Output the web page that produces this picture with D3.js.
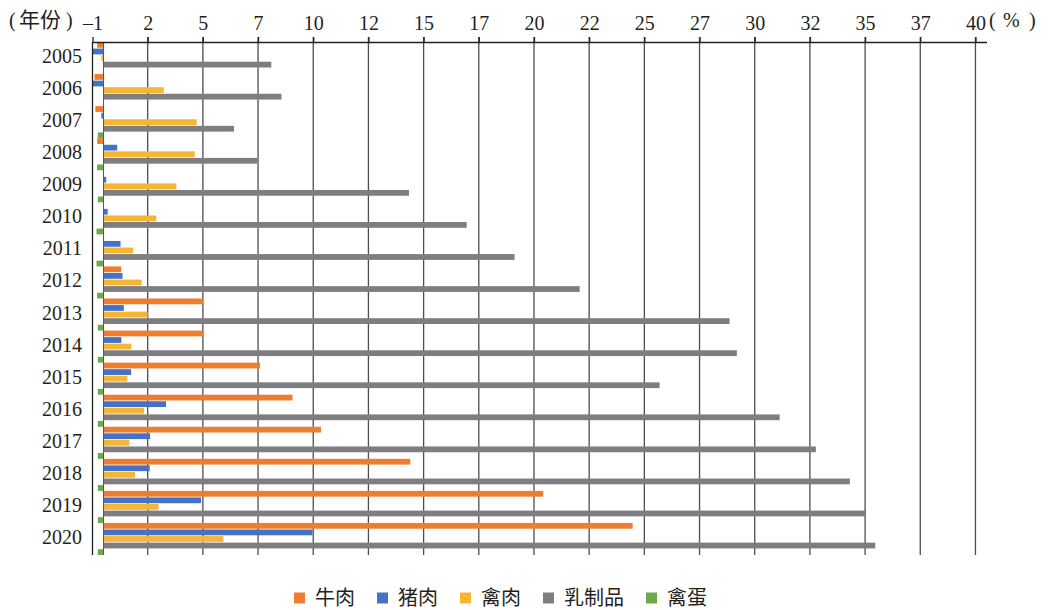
<!DOCTYPE html>
<html>
<head>
<meta charset="utf-8">
<script src="https://cdn.jsdelivr.net/npm/d3@7"></script>
<style>
  body { margin: 0; background: #fff; }
  svg { display: block; }
</style>
</head>
<body>
<script>
// years, top to bottom
const years = ["2005","2006","2007","2008","2009","2010","2011","2012",
               "2013","2014","2015","2016","2017","2018","2019","2020"];

// series (%)
const beef    = [-0.29, -0.41, -0.37, -0.29, 0, 0, 0, 0.8, 4.51, 4.54, 7.09, 8.56, 9.85, 13.9, 19.92, 23.97];
const pork    = [-0.5, -0.5, -0.1, 0.62, 0.12, 0.19, 0.77, 0.86, 0.92, 0.81, 1.25, 2.83, 2.11, 2.09, 4.42, 9.46];
const poultry = [-0.1, 2.73, 4.22, 4.13, 3.3, 2.39, 1.34, 1.73, 2.0, 1.26, 1.08, 1.84, 1.17, 1.43, 2.49, 5.43];
const dairy   = [7.6, 8.06, 5.91, 6.97, 13.84, 16.45, 18.62, 21.57, 28.36, 28.69, 25.19, 30.63, 32.27, 33.81, 34.51, 34.96];
const eggs    = [0, 0, -0.26, -0.29, -0.26, -0.32, -0.32, -0.29, -0.26, -0.26, -0.26, -0.26, -0.26, -0.26, -0.26, -0.26];

const seriesNames = ["牛肉", "猪肉", "禽肉", "乳制品", "禽蛋"];
const seriesColors = ["#ED7D31", "#4472C4", "#F6B533", "#7E7D82", "#6FA84A"];
const seriesValues = [beef, pork, poultry, dairy, eggs];

// axis ticks and their printed labels
const tickValues = [-0.5, 2, 4.5, 7, 9.5, 12, 14.5, 17, 19.5, 22, 24.5, 27, 29.5, 32, 34.5, 37, 39.5];
const tickLabels = ["–1","2","5","7","10","12","15","17","20","22","25","27","30","32","35","37","40"];

var width = 1048, height = 610;
const serif = "'Liberation Serif', serif";
const cjk = "'Noto Sans CJK SC', sans-serif";

let svg = d3.select("body").append("svg")
  .attr("width", width)
  .attr("height", height);

let x = d3.scaleLinear()
  .domain([-0.5, 40])
  .range([92.5, 986.5]);

let y = d3.scaleBand()
  .domain(years)
  .range([42, 555])
  .padding(0);

let ySub = d3.scaleBand()
  .domain(d3.range(seriesNames.length))
  .range([0, y.bandwidth()])
  .paddingInner(0.12);

// gridlines
let grid = svg.append("g").attr("id", "grid");
grid.selectAll("line")
  .data(tickValues.slice(1))
  .enter()
  .append("line")
  .attr("x1", d => x(d)).attr("x2", d => x(d))
  .attr("y1", 37).attr("y2", 555)
  .attr("stroke", "#4d4d4d")
  .attr("stroke-width", 1.3);

// bars
let bars = svg.append("g").attr("id", "bars");
years.forEach(function(yr, i) {
  seriesValues.forEach(function(vals, s) {
    let v = vals[i];
    if (v === 0) return;
    bars.append("rect")
      .attr("x", x(Math.min(0, v)))
      .attr("y", y(yr) + ySub(s))
      .attr("width", Math.abs(x(v) - x(0)))
      .attr("height", ySub.bandwidth())
      .attr("fill", seriesColors[s]);
  });
});

// zero line
svg.append("line")
  .attr("x1", x(0)).attr("x2", x(0))
  .attr("y1", 42).attr("y2", 555)
  .attr("stroke", "#555")
  .attr("stroke-width", 1);

// top axis
let axis = d3.axisTop(x)
  .tickValues(tickValues)
  .tickFormat((d, i) => tickLabels[i])
  .tickSize(5)
  .tickSizeOuter(0);

let gx = svg.append("g")
  .attr("transform", "translate(0,42)")
  .call(axis);
gx.select(".domain").attr("stroke", "#222").attr("stroke-width", 1.3);
gx.selectAll(".tick line").attr("stroke", "#222").attr("stroke-width", 1.3);
gx.selectAll(".tick text")
  .attr("y", -12)
  .style("font-family", serif)
  .style("font-size", "20px")
  .attr("fill", "#231f20");

// left axis line
svg.append("line")
  .attr("x1", x(-0.5)).attr("x2", x(-0.5))
  .attr("y1", 42).attr("y2", 555)
  .attr("stroke", "#222")
  .attr("stroke-width", 1.3);

// year labels
svg.append("g").selectAll("text")
  .data(years)
  .enter()
  .append("text")
  .attr("x", 82)
  .attr("y", d => y(d) + y.bandwidth() / 2 + 5)
  .attr("text-anchor", "end")
  .style("font-family", serif)
  .style("font-size", "20px")
  .attr("fill", "#231f20")
  .text(d => d);

// unit labels
let unitY = svg.append("text")
  .attr("y", 27)
  .attr("fill", "#231f20");
unitY.append("tspan").attr("x", 9).style("font-family", serif).style("font-size", "20px").text("(");
unitY.append("tspan").attr("x", 19).style("font-family", cjk).style("font-size", "21px").text("年份");
unitY.append("tspan").attr("x", 66).style("font-family", serif).style("font-size", "20px").text(")");

let unitX = svg.append("text")
  .attr("y", 27)
  .attr("fill", "#231f20")
  .style("font-family", serif)
  .style("font-size", "20px");
unitX.append("tspan").attr("x", 989).text("(");
unitX.append("tspan").attr("x", 1003).text("%");
unitX.append("tspan").attr("x", 1029).text(")");

// legend
let legend = svg.append("g").attr("id", "legend");
let lx = 294;
seriesNames.forEach(function(name, s) {
  legend.append("rect")
    .attr("x", lx).attr("y", 592.5)
    .attr("width", 11).attr("height", 11)
    .attr("fill", seriesColors[s]);
  let t = legend.append("text")
    .attr("x", lx + 21).attr("y", 605)
    .style("font-family", cjk)
    .style("font-size", "20px")
    .attr("fill", "#231f20")
    .text(name);
  lx += 21 + t.node().getComputedTextLength() + 22;
});
</script>
</body>
</html>
